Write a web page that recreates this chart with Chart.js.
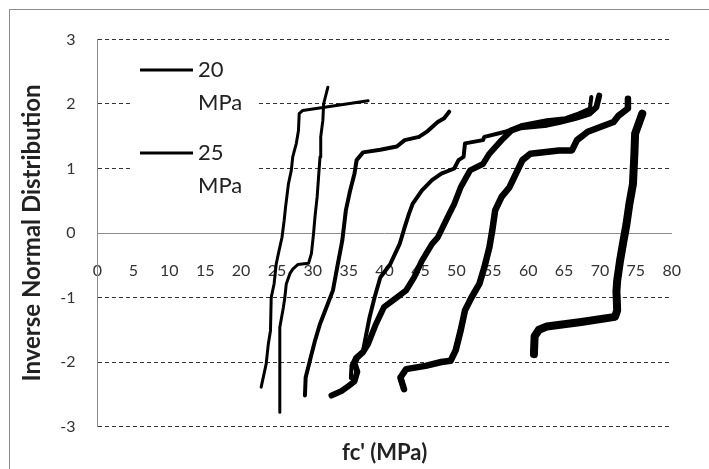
<!DOCTYPE html>
<html>
<head>
<meta charset="utf-8">
<title>Inverse Normal Distribution</title>
<script src="https://cdn.jsdelivr.net/npm/chart.js@4/dist/chart.umd.min.js"></script>
<style>
  html, body { margin: 0; padding: 0; background: #fff; }
  #wrap { width: 709px; height: 469px; position: relative; }
</style>
</head>
<body>
<div id="wrap"><canvas id="chart"></canvas></div>
<script>
// Подписи серий (в легенде видны только первые две)
const seriesLabels = ['20 MPa', '25 MPa', '30 MPa', '35 MPa', '40 MPa', '45 MPa', '50 MPa'];
const legendCount = 2;

// fc' (MPa) и обратное нормальное распределение для каждой серии
const s20x = [22.8, 23.5, 23.8, 24.1, 24.2, 24.6, 24.9, 25.2, 25.7, 26.0, 26.2, 26.6, 27.0, 27.2, 27.7, 28.0, 28.1, 28.6, 37.7];
const s20y = [-2.39, -2.03, -1.72, -1.51, -1.0, -0.79, -0.48, -0.32, -0.07, 0.19, 0.40, 0.76, 0.97, 1.18, 1.39, 1.59, 1.85, 1.90, 2.05];

const s25x = [25.4, 25.4, 25.9, 26.1, 26.3, 26.8, 27.2, 27.9, 29.4, 29.8, 30.1, 30.3, 30.6, 30.8, 31.0, 31.1, 31.4, 31.5, 32.1];
const s25y = [-2.78, -1.46, -1.15, -1.0, -0.79, -0.63, -0.56, -0.49, -0.47, -0.32, -0.01, 0.25, 0.56, 0.87, 1.18, 1.49, 1.75, 2.0, 2.26];

const s30x = [28.9, 29.0, 29.7, 30.3, 31.0, 31.9, 32.8, 33.4, 34.1, 34.6, 35.2, 35.8, 36.1, 37.0, 39.4, 41.7, 42.8, 44.8, 46.0, 47.4, 48.3, 49.0];
const s30y = [-2.52, -2.24, -1.93, -1.67, -1.41, -1.15, -0.89, -0.53, -0.12, 0.35, 0.66, 0.92, 1.13, 1.25, 1.29, 1.34, 1.44, 1.49, 1.58, 1.72, 1.78, 1.88];

const s35x = [35.3, 35.4, 35.9, 37.0, 37.9, 38.6, 39.4, 40.8, 42.1, 42.8, 43.4, 43.9, 45.2, 46.6, 47.9, 49.7, 50.3, 51.0, 51.2, 53.7, 53.9, 56.8, 59.0, 62.6, 65.2, 67.0, 68.6, 68.8];
const s35y = [-2.25, -2.05, -1.93, -1.82, -1.31, -1.0, -0.69, -0.48, -0.17, 0.09, 0.30, 0.45, 0.66, 0.82, 0.92, 1.0, 1.13, 1.18, 1.39, 1.44, 1.49, 1.57, 1.67, 1.75, 1.78, 1.85, 1.93, 2.11];

const s40x = [32.6, 34.0, 35.0, 35.8, 36.2, 35.8, 36.2, 37.0, 37.7, 38.8, 39.9, 41.7, 43.0, 44.1, 45.2, 46.6, 47.4, 48.8, 49.7, 50.6, 51.9, 53.7, 54.6, 56.3, 57.7, 59.0, 62.6, 64.3, 66.5, 68.5, 69.5, 69.9];
const s40y = [-2.52, -2.45, -2.37, -2.3, -2.15, -2.02, -1.93, -1.85, -1.72, -1.41, -1.15, -1.0, -0.89, -0.69, -0.43, -0.17, -0.07, 0.25, 0.45, 0.71, 0.97, 1.07, 1.23, 1.44, 1.59, 1.64, 1.68, 1.72, 1.78, 1.85, 1.95, 2.13];

const s45x = [42.7, 42.2, 43.0, 45.7, 47.9, 49.2, 49.9, 50.6, 51.2, 52.1, 53.2, 53.9, 54.6, 55.0, 55.4, 56.3, 57.4, 58.3, 59.2, 60.3, 64.3, 66.1, 66.8, 68.3, 71.9, 72.6, 73.9, 73.9];
const s45y = [-2.42, -2.24, -2.11, -2.06, -2.0, -1.98, -1.82, -1.51, -1.2, -1.0, -0.79, -0.53, -0.22, 0.04, 0.35, 0.56, 0.71, 0.92, 1.13, 1.23, 1.28, 1.28, 1.44, 1.57, 1.72, 1.82, 1.93, 2.08];

const s50x = [60.8, 60.9, 61.5, 62.6, 67.4, 72.1, 72.4, 72.3, 72.4, 72.8, 73.2, 73.7, 74.1, 74.6, 74.8, 74.9, 75.9];
const s50y = [-1.88, -1.6, -1.5, -1.45, -1.38, -1.3, -1.2, -0.9, -0.74, -0.43, -0.17, 0.14, 0.45, 0.76, 1.23, 1.54, 1.85];

const seriesX = [s20x, s25x, s30x, s35x, s40x, s45x, s50x];
const seriesY = [s20y, s25y, s30y, s35y, s40y, s45y, s50y];
const lineWidths = [3, 3, 4, 4, 6, 6.5, 8];

// Оси
const xMin = 0, xMax = 80, xStep = 5;
const yMin = -3, yMax = 3, yStep = 1;

const FONT = 'Lato';
const GRID_COLOR = '#333';
const AXIS_COLOR = '#8c8c8c';

function toPoints(xs, ys) {
  return xs.map((x, i) => ({ x: x, y: ys[i] }));
}

// Рамка вокруг диаграммы
const framePlugin = {
  id: 'frame',
  beforeDraw(chart) {
    const ctx = chart.ctx;
    ctx.save();
    ctx.fillStyle = '#fff';
    ctx.fillRect(0, 0, chart.width, chart.height);
    ctx.strokeStyle = AXIS_COLOR;
    ctx.lineWidth = 1;
    ctx.strokeRect(9.5, 9.5, 740, 500);
    ctx.restore();
  }
};

// Усечённая легенда, как в оригинале: текст переносится на две строки
const legendPlugin = {
  id: 'miniLegend',
  afterDatasetsDraw(chart) {
    const ctx = chart.ctx;
    ctx.save();
    ctx.fillStyle = '#fff';
    ctx.fillRect(132, 56, 124, 144);
    ctx.font = '22px ' + FONT;
    ctx.textBaseline = 'middle';
    ctx.textAlign = 'left';
    const rows = [70, 153];
    for (let i = 0; i < legendCount; i++) {
      const y = rows[i];
      ctx.strokeStyle = '#000';
      ctx.lineWidth = 3;
      ctx.beginPath();
      ctx.moveTo(140, y);
      ctx.lineTo(193, y);
      ctx.stroke();
      ctx.fillStyle = '#222';
      chart.data.datasets[i].label.split(' ').forEach((part, k) => {
        ctx.fillText(part, 198, y + k * 33);
      });
    }
    ctx.restore();
  }
};

document.addEventListener('DOMContentLoaded', function () {
  const datasets = seriesLabels.map((label, i) => ({
    label: label,
    data: toPoints(seriesX[i], seriesY[i]),
    showLine: true,
    borderColor: '#000',
    backgroundColor: '#000',
    borderWidth: lineWidths[i],
    borderCapStyle: 'round',
    borderJoinStyle: 'round',
    pointRadius: 0,
    tension: 0,
    fill: false,
    xAxisID: 'x',
    yAxisID: 'y'
  }));

  new Chart(document.getElementById('chart'), {
    type: 'scatter',
    data: { datasets: datasets },
    plugins: [framePlugin, legendPlugin],
    options: {
      responsive: true,
      maintainAspectRatio: false,
      animation: false,
      layout: { padding: { left: 0, top: 39.5, right: 11.5, bottom: 0 } },
      plugins: {
        legend: { display: false },
        tooltip: { enabled: false }
      },
      scales: {
        // Нижняя ось: только подпись
        x: {
          type: 'linear',
          position: 'bottom',
          min: xMin,
          max: xMax,
          ticks: { display: false, stepSize: xStep },
          grid: { display: false },
          border: { display: false },
          title: {
            display: true,
            text: "fc' (MPa)",
            color: '#222',
            font: { family: FONT, size: 22, weight: 'bold' },
            padding: { top: 0, bottom: 2.5 }
          },
          afterFit: function (scale) { scale.height = 42.5; }
        },
        // Ось X, проходящая через ноль
        xt: {
          type: 'linear',
          position: { y: 0 },
          min: xMin,
          max: xMax,
          ticks: {
            stepSize: xStep,
            padding: 28,
            color: '#333',
            autoSkip: false,
            maxRotation: 0,
            font: { family: FONT, size: 16 }
          },
          grid: { drawOnChartArea: false, drawTicks: false },
          border: { display: true, color: AXIS_COLOR, width: 1 },
          afterFit: function (scale) { scale.height = 0; }
        },
        y: {
          type: 'linear',
          position: 'left',
          min: yMin,
          max: yMax,
          ticks: {
            stepSize: yStep,
            padding: 22,
            color: '#333',
            font: { family: FONT, size: 16 }
          },
          grid: {
            drawTicks: false,
            color: function (c) { return c.tick && c.tick.value === 0 ? 'rgba(0,0,0,0)' : GRID_COLOR; },
            lineWidth: 1
          },
          border: { display: true, color: AXIS_COLOR, width: 1, dash: function (c) { return c.tick ? [4, 3] : []; } },
          title: {
            display: true,
            text: 'Inverse Normal Distribution',
            color: '#222',
            font: { family: FONT, size: 24, weight: 'bold' },
            padding: { top: 18, bottom: 0 }
          },
          afterFit: function (scale) { scale.width = 97.5; }
        }
      }
    }
  });
});
</script>
</body>
</html>
